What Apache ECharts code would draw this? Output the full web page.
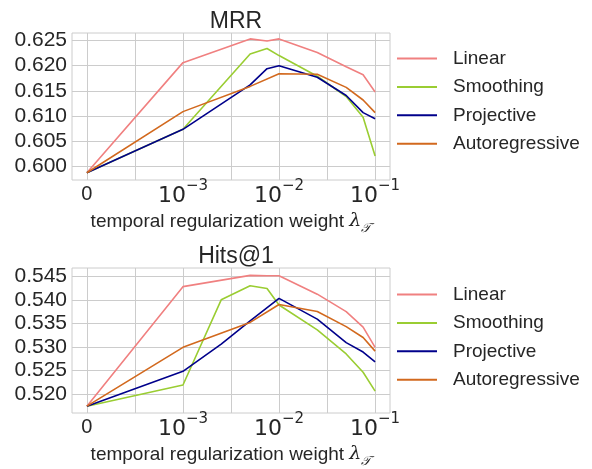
<!DOCTYPE html>
<html><head><meta charset="utf-8">
<script src="https://cdn.jsdelivr.net/npm/echarts@6/dist/echarts.min.js"></script>
<style>html,body{margin:0;padding:0;background:#fff}#c{width:592px;height:469px}</style>
</head><body><div id="c"></div>
<script>
const lambdas = [0, 0.001, 0.0025, 0.005, 0.0075, 0.01, 0.025, 0.05, 0.075, 0.1];
const seriesNames = ['Linear', 'Smoothing', 'Projective', 'Autoregressive'];
const colors = ['#f08080', '#9acd32', '#00008b', '#d2691e'];
const mrrLinear = [0.5988, 0.6206, null, 0.6253, 0.6249, 0.6253, 0.6226, 0.6198, 0.6182, 0.6148];
const mrrSmoothing = [0.5988, 0.6074, null, 0.6223, 0.6234, 0.6220, 0.6179, 0.6139, 0.6098, 0.6021];
const mrrProjective = [0.5988, 0.6074, null, 0.6162, 0.6194, 0.6200, 0.6177, 0.6141, 0.6107, 0.6095];
const mrrAutoregressive = [0.5988, 0.6109, null, 0.6159, null, 0.6184, 0.6183, 0.6157, 0.6132, 0.6107];
const hitsLinear = [0.5174, 0.5428, null, 0.5452, 0.5451, 0.5451, 0.5412, 0.5375, 0.5342, 0.5299];
const hitsSmoothing = [0.5174, 0.5219, 0.5400, 0.5430, 0.5424, 0.5389, 0.5336, 0.5285, 0.5246, 0.5206];
const hitsProjective = [0.5174, 0.5248, 0.5306, 0.5355, null, 0.5403, 0.5359, 0.5309, 0.5289, 0.5268];
const hitsAutoregressive = [0.5174, 0.5299, null, 0.5352, null, 0.5390, 0.5375, 0.5343, 0.5320, 0.5291];
const mrrTicks = [0.600, 0.605, 0.610, 0.615, 0.620, 0.625];
const hitsTicks = [0.520, 0.525, 0.530, 0.535, 0.540, 0.545];
const xTickLabels = ['0', '10^-3', '10^-2', '10^-1'];
const titles = ['MRR', 'Hits@1'];
const xName = 'temporal regularization weight';

const FONT = 'Liberation Sans';
const TXT = '#262626';
const GRID = '#cccccc';
// symlog-style position: 0 sits one decade below 1e-3
const pos = v => v === 0 ? -4 : Math.log10(v);
const xPos = lambdas.map(pos);
const labelPos = [-4, -3, -2, -1];
const gridPos = [-4, -3.5, -3, -2.5, -2, -1.5, -1];

function xAxis(gi) {
  return {
    type: 'value', gridIndex: gi, min: -4.155, max: -0.845,
    axisLine: {show: false}, axisTick: {show: false, customValues: gridPos},
    splitLine: {show: true, lineStyle: {color: GRID, width: 1}},
    axisLabel: {
      customValues: labelPos, margin: -1,
      formatter: v => {
        const i = labelPos.indexOf(Math.round(v));
        const t = xTickLabels[i];
        if (t === '0') return '{z|0}';
        const e = t.split('^')[1].replace('-', '\u2212');
        return '{b|10}{s|' + e + '}';
      },
      rich: {
        z: {fontFamily: FONT, fontSize: 20, color: TXT, lineHeight: 28, verticalAlign: 'bottom', padding: [0,0,3,0]},
        b: {fontFamily: 'DejaVu Sans', fontSize: 22, color: TXT, lineHeight: 28, verticalAlign: 'bottom'},
        s: {fontFamily: 'DejaVu Sans', fontSize: 15, color: TXT, lineHeight: 15, verticalAlign: 'top'}
      }
    },
    name: '{t|' + xName + ' }{l|\u03bb}{sub|\ud835\udcaf}',
    nameLocation: 'middle', nameGap: 27,
    nameTextStyle: {
      rich: {
        t: {fontFamily: FONT, fontSize: 19, color: TXT, lineHeight: 24, verticalAlign: 'bottom'},
        l: {fontFamily: 'DejaVu Serif', fontStyle: 'italic', fontSize: 19, color: TXT, lineHeight: 24, verticalAlign: 'bottom'},
        sub: {fontFamily: 'DejaVu Sans', fontStyle: 'italic', fontSize: 13, color: TXT, lineHeight: 24, verticalAlign: 'bottom', padding: [0,0,-4,0]}
      }
    }
  };
}
function yAxis(gi, ticks, min, max) {
  return {
    type: 'value', gridIndex: gi, min: min, max: max,
    axisLine: {show: false}, axisTick: {show: false, customValues: ticks},
    splitLine: {show: true, lineStyle: {color: GRID, width: 1}},
    axisLabel: {customValues: ticks, formatter: v => v.toFixed(3), fontFamily: FONT, fontSize: 21, color: TXT, margin: 5}
  };
}
const mrrData = [mrrLinear, mrrSmoothing, mrrProjective, mrrAutoregressive];
const hitsData = [hitsLinear, hitsSmoothing, hitsProjective, hitsAutoregressive];
const series = [];
[mrrData, hitsData].forEach((set, gi) => {
  set.forEach((vals, k) => {
    series.push({
      type: 'line', name: seriesNames[k], xAxisIndex: gi, yAxisIndex: gi,
      data: xPos.map((x, j) => [x, vals[j]]).filter(p => p[1] !== null),
      symbol: 'none', color: colors[k], lineStyle: {width: 1.6, color: colors[k]},
      animation: false, z: 3
    });
  });
});
function legend(top) {
  return {
    data: seriesNames, orient: 'vertical', left: 392, top: top,
    icon: 'rect', itemWidth: 40, itemHeight: 2, itemGap: 9.4,
    textStyle: {fontFamily: FONT, fontSize: 19, color: TXT, padding: [0,0,0,11]},
    selectedMode: false
  };
}
const chart = echarts.init(document.getElementById('c'), null, {renderer: 'canvas'});
chart.setOption({
  animation: false,
  backgroundColor: '#fff',
  title: titles.map((t, i) => ({
    text: t, left: 231, top: i === 0 ? 5 : 240, textAlign: 'center',
    textStyle: {fontFamily: FONT, fontSize: 23, fontWeight: 'normal', color: TXT}
  })),
  legend: [legend(44), legend(280)],
  grid: [
    {left: 72, top: 33, width: 318, height: 147, show: true, borderColor: GRID, borderWidth: 1, containLabel: false},
    {left: 72, top: 268, width: 318, height: 147, show: true, borderColor: GRID, borderWidth: 1, containLabel: false}
  ],
  xAxis: [xAxis(0), xAxis(1)],
  yAxis: [yAxis(0, mrrTicks, 0.59736, 0.62647), yAxis(1, hitsTicks, 0.51595, 0.54676)],
  series: series
});
</script></body></html>
